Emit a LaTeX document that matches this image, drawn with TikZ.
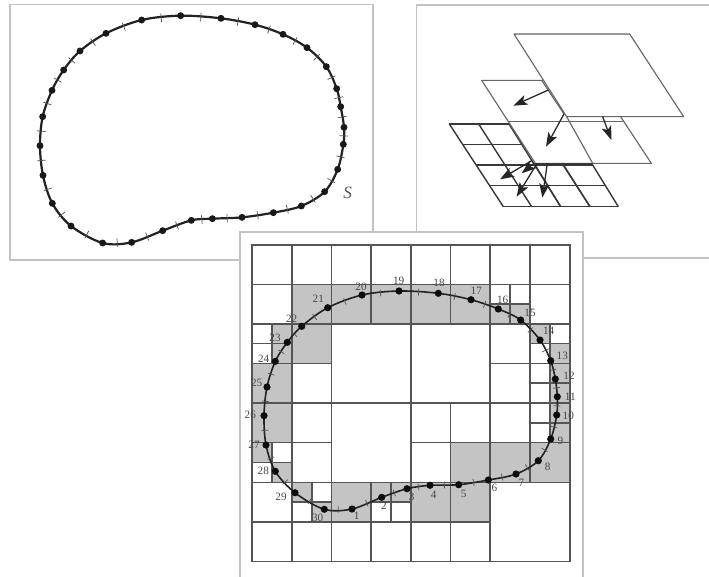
\documentclass[tikz,border=0pt]{standalone}
\usepackage{fontspec}
\setmainfont{Liberation Serif}
\usetikzlibrary{calc,arrows.meta}
\definecolor{framec}{HTML}{C2C2C2}
\definecolor{cellc}{HTML}{C4C4C4}
\definecolor{linec}{HTML}{555555}
\definecolor{curvec}{HTML}{222222}
\tikzset{
  frame/.style={draw=framec,line width=0.9pt,fill=white},
  gridline/.style={draw=linec,line width=0.85pt},
  grayc/.style={fill=cellc,draw=none},
  curveline/.style={draw=curvec,line width=1.65pt},
  curvethin/.style={draw=curvec,line width=1.2pt},
  tickline/.style={draw=linec,line width=0.55pt},
  dota/.style={circle,fill=black!90,inner sep=0pt,minimum size=5.2pt,draw=none},
  dotc/.style={circle,fill=black!95,inner sep=0pt,minimum size=5.4pt,draw=none},
  lab/.style={text=black!72,font=\fontsize{8.4}{9}\selectfont,inner sep=0pt},
  plane/.style={draw=black!60,line width=0.85pt,fill=white,line join=round},
  planeline/.style={draw=black!60,line width=0.85pt},
  lowgrid/.style={draw=black!78,line width=1.05pt},
  arrowline/.style={draw=black!85,line width=0.95pt,-{Stealth[length=10.5pt,width=7.5pt,inset=2.5pt]}},
}
\begin{document}
\begin{tikzpicture}[x=0.75pt,y=-0.75pt]
\clip (0,0) rectangle (709,576);
\fill[white] (0,0) rectangle (709,576);
% ---------- panel 1
\draw[frame] (10,4.5) rectangle (373,260);
\foreach \px/\py [count=\i] in {
 542/47,663/55,765/74,849/103,921/143,979/200,1010/266,1022/320,1032/382,1030/433,
 1013/508,974/575,904/618,820/638,726/652,637/656,574/661,488/692,395/727,308/729,
 213/678,157/610,129/526,120/437,128/350,156/271,191/210,240/153,318/100,425/60}
 \coordinate (a\i) at ({\px/3},{\py/3});
\draw[curveline] plot[smooth cycle,tension=0.55] coordinates {(a1)(a2)(a3)(a4)(a5)(a6)(a7)(a8)(a9)(a10)(a11)(a12)(a13)(a14)(a15)(a16)(a17)(a18)(a19)(a20)(a21)(a22)(a23)(a24)(a25)(a26)(a27)(a28)(a29)(a30)};
\foreach \i in {1,...,30}{
  \pgfmathtruncatemacro{\j}{mod(\i,30)+1}
  \draw[tickline] ($(a\i)!.5!(a\j)!3.2pt!90:(a\j)$) -- ($(a\i)!.5!(a\j)!3.2pt!-90:(a\j)$);
  \node[dota] (da\i) at (a\i) {};
}
\node[text=black!65,font=\fontsize{13}{14}\selectfont\itshape,inner sep=0pt] (lblS) at (347.7,193) {S};
% ---------- panel 2
\draw[frame] (416.5,5) rectangle (730,258);
\begin{scope}[shift={(410,0)},x=0.25pt,y=-0.25pt]
  % lower grid
  \foreach \t/\b in {118/280,206/365,297/452,380/540}
    \draw[lowgrid] (\t,372) -- (\b,620);
  \draw[lowgrid] (118,372) -- (465,372);
  \draw[lowgrid] (158,433) -- (420,433);
  \draw[lowgrid] (199,495) -- (548,495);
  \draw[lowgrid] (240,557) -- (585,557);
  \draw[lowgrid] (280,620) -- (625,620);
  \draw[lowgrid] (548,495) -- (625,620);
  % middle plane
  \draw[plane] (215,241) -- (560,241) -- (724,490) -- (376,490) -- cycle;
  \draw[lowgrid] (376,491) -- (548,491);
  \draw[lowgrid] (458,491) -- (540,620);
  \draw[lowgrid] (373,491) -- (452,620);
  \draw[planeline] (297,365) -- (640,365);
  \draw[planeline] (470,350) -- (548,490);
  \draw[planeline] (395,241) -- (462,342);
  % top plane
  \draw[plane] (312,102) -- (659,102) -- (821,350) -- (470,350) -- cycle;
  % arrows
  \coordinate (b1s) at (415,270); \coordinate (b1e) at (310,317);
  \coordinate (b2s) at (462,342); \coordinate (b2e) at (408,440);
  \coordinate (b3s) at (578,350); \coordinate (b3e) at (604,420);
  \coordinate (b4s) at (365,482); \coordinate (b4e) at (270,538);
  \coordinate (b5s) at (372,490); \coordinate (b5e) at (335,520);
  \coordinate (b6s) at (380,492); \coordinate (b6e) at (320,590);
  \coordinate (b7s) at (412,490); \coordinate (b7e) at (397,593);
  \foreach \k in {1,...,7}
    \draw[arrowline] (b\k s) -- (b\k e);
\end{scope}
% ---------- panel 3
\draw[frame] (240,232) rectangle (583,590);
% gray cells
\foreach \xa/\ya/\xb/\yb in {
 292/284.3/490/324, 490/304/530/324, 530/324/550/343.5,
 550/343.5/570/442.7, 530/442.7/570/482.3, 450.7/442.7/530/482.3,
 411/482.3/490/522, 391/482.3/411/502, 371/482.3/391/502, 331.7/482.3/371/522,
 312/502/331.7/522, 292/482.3/312/502, 272/462.5/292/482.3, 252/442.7/272/462.5,
 252/363.5/292/442.7, 272/324/331.7/363.5}
  \fill[grayc] (\xa,\ya) rectangle (\xb,\yb);
\draw[gridline] (252,245) rectangle (570,561.7);
% vertical lines
\foreach \x/\ya/\yb in {
 292/245/561.7, 331.7/245/561.7, 371/245/324, 371/482.3/561.7, 411/245/561.7,
 450.7/245/324, 450.7/403/561.7, 490/245/561.7, 530/245/482.3, 510/284.3/324,
 550/324/442.7, 272/324/363.5, 272/442.7/482.3, 312/482.3/522, 391/482.3/522}
  \draw[gridline] (\x,\ya) -- (\x,\yb);
% horizontal lines
\foreach \y/\xa/\xb in {
 284.3/252/570, 324/252/570, 343.5/252/292, 343.5/530/570, 363.5/252/331.7, 363.5/490/570,
 383/530/570, 403/252/570, 423/530/570, 442.7/252/331.7, 442.7/411/570,
 462.5/252/292, 482.3/252/570, 502/292/331.7, 502/371/411, 522/252/490, 304/490/530}
  \draw[gridline] (\xa,\y) -- (\xb,\y);
% curve
\foreach \px/\py [count=\i] in {
 352/509,381.7/497.3,407/488.7,430/485.3,458.7/484.7,488.3/480,516/474,538.3/460.7,550.7/439,556.7/415,
 557.3/396.7,555.3/379,550.7/360.7,540/340,520.7/320,498.3/309,471/299.7,438.3/293.3,399/291,362/295,
 327.7/307.7,301.7/326.3,287.3/342.3,275.3/361.3,267/387,264/415.7,266/445,275.3/471.3,295/492.7,324.3/509.3}
  \coordinate (c\i) at (\px,\py);
\draw[curvethin] plot[smooth cycle,tension=0.55] coordinates {(c1)(c2)(c3)(c4)(c5)(c6)(c7)(c8)(c9)(c10)(c11)(c12)(c13)(c14)(c15)(c16)(c17)(c18)(c19)(c20)(c21)(c22)(c23)(c24)(c25)(c26)(c27)(c28)(c29)(c30)};
\foreach \i in {1,...,30}{
  \pgfmathtruncatemacro{\j}{mod(\i,30)+1}
  \draw[tickline] ($(c\i)!.5!(c\j)!2.6pt!90:(c\j)$) -- ($(c\i)!.5!(c\j)!2.6pt!-90:(c\j)$);
  \node[dotc] (dc\i) at (c\i) {};
}
% labels
\foreach \px/\py [count=\i] in {
 356.7/516,384/505.7,411.7/496.7,433.7/494.7,463.7/494,494.3/488.3,521.3/483,547.7/467.3,560.3/441.3,568.3/416,
 570.3/396.7,569/376,562.3/356.3,548.7/330.7,530/313,502.7/300.3,476.3/290.7,439/283.3,398.7/281,361/286.7,
 318.3/299,291.7/319,275/338,263.7/358.3,256.7/382.7,250.3/414.7,254/444.3,263.3/471.3,281/496.7,317.7/517.7}
  \node[lab] (l\i) at (\px,\py) {\i};
\end{tikzpicture}
\end{document}
